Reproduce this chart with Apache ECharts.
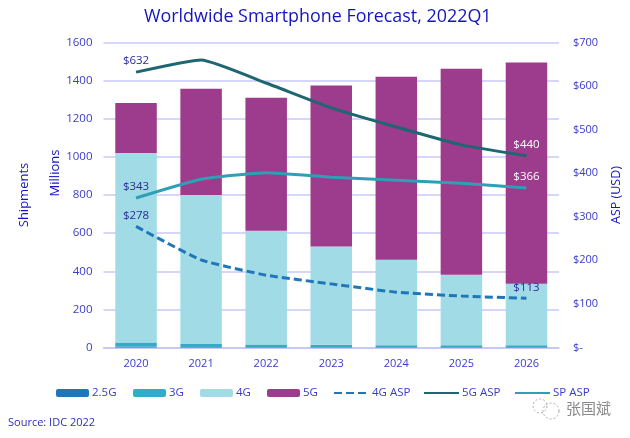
<!DOCTYPE html>
<html>
<head>
    <title>Worldwide Smartphone Forecast</title>
    <meta http-equiv="Content-Type" content="text/html; charset=utf-8" />
    <style>html,body{margin:0;padding:0;background:#fff}</style>
</head>
<body>
    <div id="main" style="width:630px;height:438px;"></div>
    <script src="https://cdn.jsdelivr.net/npm/echarts@6/dist/echarts.min.js"></script>
    <script type="text/javascript">
        var years = ['2020', '2021', '2022', '2023', '2024', '2025', '2026'];
        var ship25g = [4, 3, 2, 2, 2, 2, 2];
        var ship3g = [22, 15, 14, 12, 10, 10, 10];
        var ship4g = [994, 782, 596, 516, 448, 370, 323];
        var ship5g = [263, 557, 698, 845, 960, 1080, 1160];
        var asp4g = [278, 201, 166, 146, 127, 118, 113];
        var asp5g = [632, 660, 607, 550, 506, 465, 440];
        var aspSp = [343, 386, 401, 391, 384, 377, 366];

        var FONT = '"Open Sans", sans-serif';
        var TEXT = '#3a3acb';
        var myChart = echarts.init(document.getElementById('main'));

        function barSeries(name, data, color) {
            return {
                name: name, type: 'bar', stack: 'ship', data: data, barWidth: 41.5,
                itemStyle: { color: color }
            };
        }

        // only the first and last point carry a label
        function firstLastLabel(firstColor, lastColor) {
            return {
                show: true, position: 'top', distance: 5,
                formatter: function (p) {
                    if (p.dataIndex === 0) return '{a|$' + p.value + '}';
                    if (p.dataIndex === years.length - 1) return '{b|$' + p.value + '}';
                    return '';
                },
                rich: {
                    a: { color: firstColor, fontFamily: FONT, fontSize: 11.5 },
                    b: { color: lastColor, fontFamily: FONT, fontSize: 11.5 }
                }
            };
        }

        function lineSeries(name, data, color, dashed, label) {
            return {
                name: name, type: 'line', yAxisIndex: 1, data: data, smooth: 0.15,
                symbol: 'circle', symbolSize: 0, showSymbol: true, showAllSymbol: true, z: 5,
                lineStyle: { color: color, width: 3, type: dashed ? [8, 4] : 'solid' },
                itemStyle: { color: color },
                label: label
            };
        }

        function oneLegend(name, left, isLine) {
            var lg = {
                data: [name], left: left, top: 387, itemWidth: isLine ? 35 : 33, itemHeight: 8, itemGap: 0,
                padding: 0, textStyle: { fontFamily: FONT, fontSize: 11.5, color: TEXT, padding: [0, 0, 0, -2] }
            };
            if (isLine) lg.itemStyle = { opacity: 0 };
            return lg;
        }

        function vertText(text, x, y) {
            return {
                type: 'text', x: x, y: y, rotation: Math.PI / 2,
                style: { text: text, fontFamily: FONT, fontSize: 13, fill: '#1414c0', textAlign: 'center', textVerticalAlign: 'middle' }
            };
        }

        var option = {
            animation: false,
            title: {
                text: 'Worldwide Smartphone Forecast, 2022Q1',
                left: 139, top: 3,
                textStyle: { fontFamily: FONT, fontSize: 17.9, fontWeight: 'normal', color: '#1414c0' }
            },
            grid: { left: 103.5, right: 71, top: 42.5, bottom: 90.5, outerBoundsMode: 'none' },
            legend: [
                oneLegend('2.5G', 56), oneLegend('3G', 133), oneLegend('4G', 200), oneLegend('5G', 267),
                oneLegend('4G ASP', 333, true), oneLegend('5G ASP', 423, true), oneLegend('SP ASP', 514, true)
            ],
            xAxis: {
                type: 'category', data: years,
                axisLine: { lineStyle: { color: '#c4c4f6', width: 1.5 } },
                axisTick: { show: false },
                axisLabel: { fontFamily: FONT, fontSize: 11, color: TEXT, margin: 11 }
            },
            yAxis: [
                {
                    type: 'value', min: 0, max: 1600, interval: 200,
                    axisLine: { show: false }, axisTick: { show: false },
                    axisLabel: {
                        fontFamily: FONT, fontSize: 11.5, color: TEXT, margin: 11,
                        formatter: function (v) { return String(v); }
                    },
                    splitLine: { lineStyle: { color: '#c8c8f8', width: 1.5 } }
                },
                {
                    type: 'value', min: 0, max: 700, interval: 100,
                    name: 'ASP (USD)', nameLocation: 'middle', nameGap: 51, nameRotate: 90,
                    nameTextStyle: { fontFamily: FONT, fontSize: 12.5, color: '#1414c0' },
                    axisLine: { show: false }, axisTick: { show: false },
                    axisLabel: {
                        fontFamily: FONT, fontSize: 11, color: TEXT, margin: 14,
                        formatter: function (v) { return v === 0 ? '$-' : '$' + v; }
                    },
                    splitLine: { show: false }
                }
            ],
            series: [
                barSeries('2.5G', ship25g, '#2077b8'),
                barSeries('3G', ship3g, '#33adc6'),
                barSeries('4G', ship4g, '#a1dbe6'),
                barSeries('5G', ship5g, '#9d3b8c'),
                lineSeries('4G ASP', asp4g, '#2077b8', true, firstLastLabel('#2a2a9c', '#2a2a9c')),
                lineSeries('5G ASP', asp5g, '#1d6672', false, firstLastLabel('#2a2a9c', '#ffffff')),
                lineSeries('SP ASP', aspSp, '#2f9fb5', false, firstLastLabel('#2a2a9c', '#ffffff'))
            ],
            graphic: [
                vertText('Shipments', 24, 195),
                vertText('Millions', 55, 173),
                {
                    type: 'text', left: 8, top: 417,
                    style: { text: 'Source: IDC 2022', fontFamily: FONT, fontSize: 11, fill: '#2c2cc0' }
                },
                {
                    type: 'text', left: 566, top: 401,
                    style: { text: '张国斌', fontFamily: '"Noto Sans CJK SC"', fontSize: 15, fill: '#8a8a8a' }
                },
                { type: 'circle', shape: { cx: 540, cy: 406, r: 7 }, style: { fill: 'none', stroke: '#aaaaaa', lineWidth: 1, lineDash: [2, 2] } },
                { type: 'circle', shape: { cx: 551, cy: 411, r: 8 }, style: { fill: 'none', stroke: '#aaaaaa', lineWidth: 1, lineDash: [2, 2] } }
            ]
        };

        myChart.setOption(option);
    </script>
</body>
</html>
